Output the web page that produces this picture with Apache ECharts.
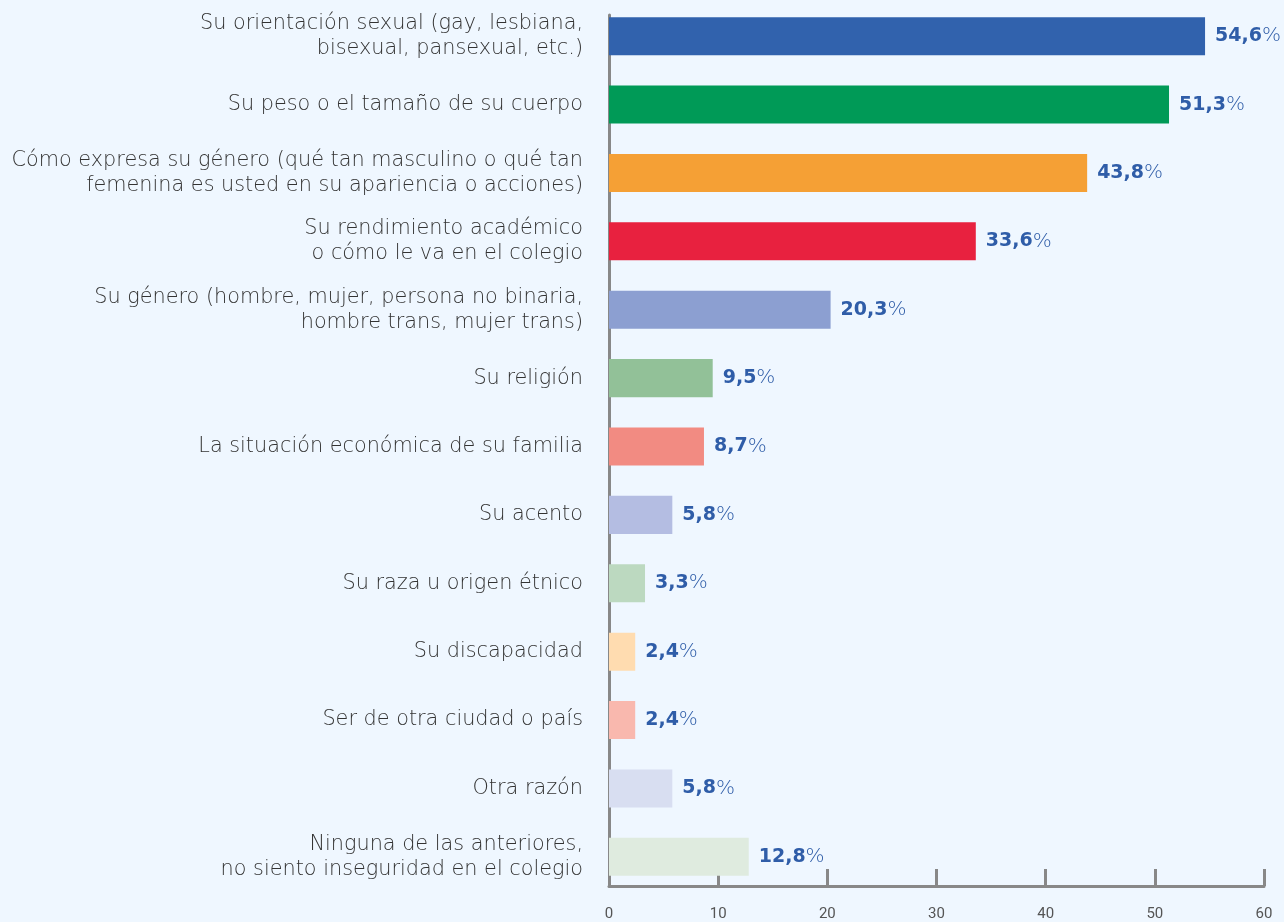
<!DOCTYPE html>
<html>
<head>
<meta charset="utf-8">
<script src="https://cdn.jsdelivr.net/npm/echarts@6/dist/echarts.min.js"></script>
<style>
html,body{margin:0;padding:0;background:#EFF7FF;}
#c{width:1284px;height:922px;}
</style>
</head>
<body>
<div id="c"></div>
<script>
const categories = [
  "Su orientación sexual (gay, lesbiana,\nbisexual, pansexual, etc.)",
  "Su peso o el tamaño de su cuerpo",
  "Cómo expresa su género (qué tan masculino o qué tan\nfemenina es usted en su apariencia o acciones)",
  "Su rendimiento académico\no cómo le va en el colegio",
  "Su género (hombre, mujer, persona no binaria,\nhombre trans, mujer trans)",
  "Su religión",
  "La situación económica de su familia",
  "Su acento",
  "Su raza u origen étnico",
  "Su discapacidad",
  "Ser de otra ciudad o país",
  "Otra razón",
  "Ninguna de las anteriores,\nno siento inseguridad en el colegio"
];
const values = [54.6, 51.3, 43.8, 33.6, 20.3, 9.5, 8.7, 5.8, 3.3, 2.4, 2.4, 5.8, 12.8];
const barColors = ["#3162AD","#009A57","#F5A035","#E8213F","#8C9FD1","#92C198","#F28B82","#B4BDE2","#BCD9C0","#FFDCB0","#F9B8AE","#D8DEF1","#DFEBDF"];
const xTicks = [0, 10, 20, 30, 40, 50, 60];

const xMin = xTicks[0], xMax = xTicks[xTicks.length - 1];
const chart = echarts.init(document.getElementById('c'));
chart.setOption({
  backgroundColor: '#EFF7FF',
  animation: false,
  grid: [
    {left: 609, right: 20, top: 2, bottom: 31, containLabel: false},
    {left: 609, right: 20, top: 15, bottom: 33, containLabel: false}
  ],
  xAxis: [
    {
      gridIndex: 0, type: 'value', min: xMin, max: xMax, interval: 10,
      axisLine: {show: false}, axisTick: {show: false}, axisLabel: {show: false}, splitLine: {show: false}
    },
    {
      gridIndex: 1, type: 'value', min: xMin, max: xMax, interval: 10,
      axisLine: {show: true, lineStyle: {color: '#888', width: 3}},
      axisTick: {show: true, inside: true, length: 17, lineStyle: {color: '#888', width: 3}},
      splitLine: {show: false},
      axisLabel: {color: '#555', fontSize: 15, margin: 21, fontFamily: 'Roboto'}
    }
  ],
  yAxis: [
    {
      gridIndex: 0, type: 'category', inverse: true, data: categories,
      axisLine: {show: false},
      axisTick: {show: false},
      axisLabel: {color: '#333', fontSize: 20.8, lineHeight: 25, margin: 26, align: 'right', fontFamily: 'DejaVu Sans', fontWeight: 200}
    },
    {
      gridIndex: 1, type: 'value',
      axisLine: {show: true, lineStyle: {color: '#888', width: 3}},
      axisTick: {show: false}, axisLabel: {show: false}, splitLine: {show: false}
    }
  ],
  series: [{
    type: 'bar',
    xAxisIndex: 0, yAxisIndex: 0,
    barWidth: '55.6%',
    data: values.map((v, i) => ({value: v, itemStyle: {color: barColors[i]}})),
    label: {
      show: true, position: 'right', distance: 10,
      formatter: p => '{b|' + p.value.toFixed(1).replace('.', ',') + '}{p|%}',
      rich: {
        b: {color: '#2F5DA8', fontSize: 19, fontWeight: 'bold', fontFamily: 'DejaVu Sans'},
        p: {color: '#2F5DA8', fontSize: 20, fontWeight: 200, fontFamily: 'DejaVu Sans'}
      }
    }
  }]
});
</script>
</body>
</html>
